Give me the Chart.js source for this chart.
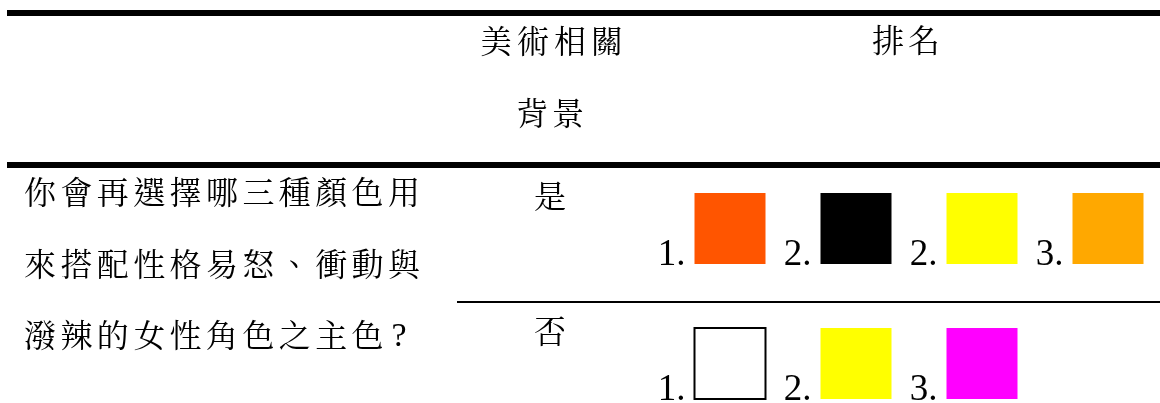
<!DOCTYPE html>
<html>
<head>
<meta charset="utf-8">
<script src="https://cdn.jsdelivr.net/npm/chart.js@4/dist/chart.umd.min.js"></script>
<style>
  html, body { margin: 0; padding: 0; background: #fff; }
  canvas { display: block; }
</style>
</head>
<body>
<canvas id="rankChart" width="1160" height="403"></canvas>
<script>
// table text
const headArt = ["美術相關", "背景"];
const headRank = "排名";
const question = ["你會再選擇哪三種顏色用", "來搭配性格易怒、衝動與", "潑辣的女性角色之主色?"];

// rows: 美術相關背景 是 / 否
const rows = ["是", "否"];
const rankYes = ["1.", "2.", "2.", "3."];
const colorYes = ["#FF5500", "#000000", "#FFFF00", "#FFA800"];
const rankNo = ["1.", "2.", "3."];
const colorNo = ["#FFFFFF", "#FFFF00", "#FF00FF"];

const CJK = '"Noto Serif CJK TC", "Noto Sans CJK TC", sans-serif';
const SIDE = 71;

// draw a string one glyph at a time on a fixed pitch
function drawChars(ctx, str, cx0, cy, pitch) {
  [...str].forEach((ch, i) => {
    if (ch === "?") {
      ctx.save();
      ctx.font = '34px "Liberation Serif", serif';
      ctx.fillText(ch, cx0 + i * pitch - 5, cy + 2);
      ctx.restore();
    } else {
      ctx.fillText(ch, cx0 + i * pitch, cy);
    }
  });
}

const tablePlugin = {
  id: "tablePlugin",
  beforeDatasetsDraw(chart) {
    const ctx = chart.ctx;
    const w = chart.width;
    ctx.save();
    ctx.fillStyle = "#000";
    // rules
    ctx.fillRect(7, 10, w - 7, 6);
    ctx.fillRect(7, 162, w - 7, 6);
    ctx.fillRect(457, 301, w - 457, 2);

    ctx.font = "32px " + CJK;
    ctx.textAlign = "center";
    ctx.textBaseline = "middle";
    drawChars(ctx, headArt[0], 496, 41, 37);
    drawChars(ctx, headArt[1], 532, 113, 36);
    drawChars(ctx, headRank, 888, 40, 36);
    question.forEach((line, i) => drawChars(ctx, line, 40, 192 + i * 71.5, 36.4));

    const ys = chart.scales.y;
    rows.forEach((r, i) => {
      ctx.fillText(r, 550, ys.getPixelForValue(i) - 33);
    });
    ctx.restore();
  },
  afterDatasetsDraw(chart) {
    const ctx = chart.ctx;
    ctx.save();
    ctx.fillStyle = "#000";
    ctx.font = '37px "Liberation Serif", "Times New Roman", serif';
    ctx.textAlign = "right";
    ctx.textBaseline = "alphabetic";
    chart.data.datasets.forEach((ds, di) => {
      chart.getDatasetMeta(di).data.forEach((pt, i) => {
        ctx.fillText(ds.ranks[i], pt.x - SIDE / 2 - 9, pt.y + SIDE / 2 + 1);
      });
    });
    ctx.restore();
  }
};

new Chart(document.getElementById("rankChart"), {
  type: "scatter",
  data: {
    datasets: [
      {
        label: rows[0],
        ranks: rankYes,
        data: rankYes.map((r, i) => ({ x: i, y: 0 })),
        backgroundColor: colorYes,
        borderColor: "#000",
        borderWidth: 0
      },
      {
        label: rows[1],
        ranks: rankNo,
        data: rankNo.map((r, i) => ({ x: i, y: 1 })),
        backgroundColor: colorNo,
        borderColor: "#000",
        borderWidth: colorNo.map(c => (c === "#FFFFFF" ? 2 : 0))
      }
    ]
  },
  options: {
    responsive: false,
    animation: false,
    clip: false,
    layout: { padding: 0, autoPadding: false },
    elements: {
      point: { pointStyle: "rect", radius: SIDE / Math.SQRT2, hoverRadius: SIDE / Math.SQRT2 }
    },
    plugins: {
      legend: { display: false },
      tooltip: { enabled: false }
    },
    scales: {
      x: { type: "linear", display: false, min: -730 / 126, max: 430 / 126 },
      y: { type: "linear", display: false, reverse: true, min: -228.5 / 135, max: 174.5 / 135 }
    }
  },
  plugins: [tablePlugin]
});
</script>
</body>
</html>
